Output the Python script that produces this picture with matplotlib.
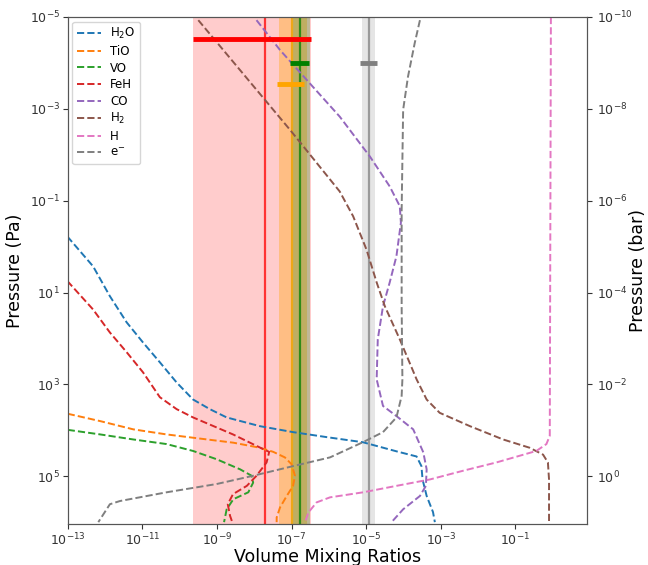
import numpy as np
import matplotlib
matplotlib.use("Agg")
import matplotlib.pyplot as plt

# ---- data (log10 values) ----
h2o_lx = [-13.01, -12.32, -11.87, -11.42, -10.98, -10.53, -10.08, -9.64, -9.19, -8.74, -7.85, -6.96, -6.05, -5.09, -4.18, -3.65, -3.52, -3.49, -3.38, -3.21, -3.16]
h2o_lp = [-0.22, 0.43, 1.08, 1.65, 2.09, 2.52, 2.96, 3.33, 3.54, 3.72, 3.91, 4.04, 4.15, 4.26, 4.46, 4.57, 4.78, 5.07, 5.43, 5.78, 6.0]

tio_lx = [-13.0, -12.13, -11.24, -10.35, -9.46, -8.56, -7.85, -7.49, -7.18, -7.0, -6.91, -6.96, -7.13, -7.31, -7.40, -7.40]
tio_lp = [3.64, 3.80, 3.98, 4.09, 4.18, 4.27, 4.38, 4.47, 4.59, 4.74, 4.99, 5.21, 5.43, 5.68, 5.90, 6.0]

vo_lx = [-13.0, -12.13, -11.24, -10.35, -9.64, -9.01, -8.38, -8.07, -8.03, -8.16, -8.56, -8.74, -8.81]
vo_lp = [3.99, 4.09, 4.20, 4.30, 4.45, 4.63, 4.85, 4.99, 5.14, 5.35, 5.50, 5.72, 6.0]

feh_lx = [-13.01, -12.32, -11.87, -11.42, -10.98, -10.53, -10.08, -9.64, -8.57, -7.71, -7.60, -7.67, -7.94, -8.20, -8.57, -8.71, -8.65, -8.59]
feh_lp = [0.75, 1.37, 1.87, 2.30, 2.74, 3.28, 3.54, 3.72, 4.09, 4.43, 4.47, 4.70, 4.99, 5.21, 5.39, 5.61, 5.86, 6.0]

co_lx = [-7.94, -7.31, -6.43, -5.71, -4.90, -4.37, -4.10, -4.07, -4.19, -4.37, -4.55, -4.69, -4.72, -4.55, -4.19, -3.74, -3.47, -3.38, -3.40, -3.56, -4.01, -4.32]
co_lp = [-4.93, -4.28, -3.48, -2.83, -1.96, -1.31, -0.88, -0.52, 0.21, 0.78, 1.30, 2.02, 2.89, 3.47, 3.69, 3.98, 4.48, 4.85, 5.21, 5.43, 5.72, 6.0]

h2_lx = [-9.50, -7.04, -5.71, -5.35, -4.99, -4.72, -4.50, -4.10, -3.65, -3.38, -3.03, -2.22, -1.33, -0.62, -0.26, -0.13, -0.10, -0.10]
h2_lp = [-4.93, -2.54, -1.20, -0.66, 0.07, 0.78, 1.30, 2.02, 2.89, 3.33, 3.62, 3.91, 4.20, 4.38, 4.53, 4.70, 5.07, 6.0]

h_lx = [-0.05, -0.08, -0.17, -0.44, -1.51, -2.40, -3.29, -4.19, -5.08, -5.97, -6.33, -6.55, -6.64]
h_lp = [-5.0, 4.12, 4.30, 4.45, 4.70, 4.88, 5.07, 5.21, 5.35, 5.46, 5.57, 5.79, 6.0]

em_lx = [-3.56, -3.70, -3.88, -4.01, -4.05, -4.05, -4.03, -4.05, -4.19, -4.55, -5.09, -5.97, -6.96, -8.03, -9.01, -10.35, -11.60, -11.87, -12.18]
em_lp = [-4.93, -4.43, -3.70, -2.98, -0.80, 1.30, 2.89, 3.25, 3.72, 4.04, 4.26, 4.59, 4.78, 4.99, 5.17, 5.35, 5.54, 5.61, 6.0]

species = ["H$_2$O", "TiO", "VO", "FeH", "CO", "H$_2$", "H", "e$^{-}$"]
profiles = [(h2o_lx, h2o_lp), (tio_lx, tio_lp), (vo_lx, vo_lp), (feh_lx, feh_lp),
            (co_lx, co_lp), (h2_lx, h2_lp), (h_lx, h_lp), (em_lx, em_lp)]

# retrieved abundances (log10): median, band low, band high, bar low, bar high, bar pressure (log10 Pa)
ret_colors = ["red", "orange", "green", "gray"]
ret_alpha = [0.2, 0.35, 0.25, 0.2]
ret_median = [-7.71, -6.98, -6.78, -4.92]
ret_lo = [-9.64, -7.33, -7.02, -5.11]
ret_hi = [-6.48, -6.60, -6.51, -4.76]
bar_lo = [-9.64, -7.39, -7.04, -5.17]
bar_hi = [-6.48, -6.67, -6.54, -4.72]
bar_lp = [-4.52, -3.54, -4.0, -4.0]

fig = plt.figure(figsize=(6.48, 5.65), dpi=100)
ax = fig.add_axes([0.1045, 0.0726, 0.8015, 0.8974])

for c, a, lo, hi in zip(ret_colors, ret_alpha, ret_lo, ret_hi):
    ax.axvspan(10**lo, 10**hi, color=c, alpha=a, lw=0, zorder=1)
for c, m in zip(ret_colors, ret_median):
    ax.axvline(10**m, color=c, alpha=0.75, lw=1.6, zorder=2)

for i, (name, (lx, lp)) in enumerate(zip(species, profiles)):
    ax.plot(10**np.array(lx), 10**np.array(lp), ls="--", color=f"C{i}", lw=1.4,
            label=name, zorder=3)

for c, lo, hi, lp in zip(ret_colors, bar_lo, bar_hi, bar_lp):
    ax.plot([10**lo, 10**hi], [10**lp, 10**lp], color=c, lw=3.5, zorder=4,
            solid_capstyle="butt")

ax.set_xscale("log")
ax.set_yscale("log")
ax.set_xlim(10**-13, 10**0.92)
ax.set_ylim(10**6.04, 1e-5)
ax.set_xticks([10.0**k for k in range(-13, 0, 2)])
ax.set_yticks([10.0**k for k in range(-5, 6, 2)])
ax.xaxis.set_minor_locator(matplotlib.ticker.NullLocator())
ax.yaxis.set_minor_locator(matplotlib.ticker.NullLocator())
ax.tick_params(labelsize=9, colors="#333333", pad=2)
ax.set_xlabel("Volume Mixing Ratios", fontsize=12.5, labelpad=0)
ax.set_ylabel("Pressure (Pa)", fontsize=12.5)

ax2 = ax.twinx()
ax2.set_yscale("log")
ax2.set_ylim(10**6.04 / 1e5, 1e-5 / 1e5)
ax2.set_yticks([10.0**k for k in range(-10, 1, 2)])
ax2.yaxis.set_minor_locator(matplotlib.ticker.NullLocator())
ax2.tick_params(labelsize=9, colors="#333333")
ax2.set_ylabel("Pressure (bar)", fontsize=12.5, labelpad=-3)

for a in (ax, ax2):
    for s in a.spines.values():
        s.set_color("#555555")

ax.legend(loc="upper left", fontsize=8.5, labelspacing=0.3, handlelength=2.0,
          borderaxespad=0.4)

fig.savefig("out.png", dpi=100)
